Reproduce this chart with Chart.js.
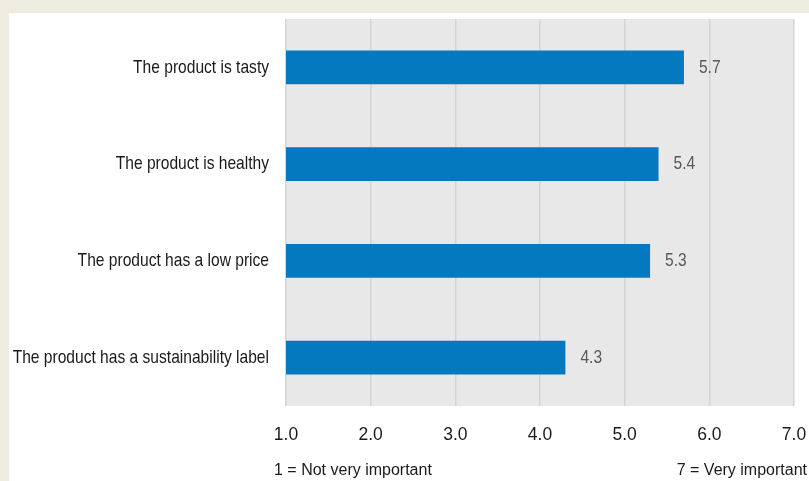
<!DOCTYPE html>
<html>
<head>
<meta charset="utf-8">
<script src="https://cdn.jsdelivr.net/npm/chart.js@4/dist/chart.umd.min.js"></script>
<style>
  html, body { margin: 0; padding: 0; background: #eeebe0; }
  #wrap { position: relative; width: 809px; height: 481px; }
</style>
</head>
<body>
<div id="wrap"><canvas id="chart" width="809" height="481"></canvas></div>
<script>
const categories = [
    'The product is tasty',
    'The product is healthy',
    'The product has a low price',
    'The product has a sustainability label'
];
const scores = [5.7, 5.4, 5.3, 4.3];
const tickValues = [1, 2, 3, 4, 5, 6, 7];
const scaleNotes = ['1 = Not very important', '7 = Very important'];

const FONT = "'Liberation Sans', Arial, sans-serif";
// no narrow face installed, so squeeze the regular one horizontally
const NARROW = 0.82;

function narrowText(ctx, text, x, y, align) {
    ctx.save();
    ctx.translate(x, y);
    ctx.scale(NARROW, 1);
    ctx.textAlign = align;
    ctx.fillText(text, 0, 0);
    ctx.restore();
}

// beige frame, white panel and grey plot area behind the scales
const backdrop = {
    id: 'backdrop',
    beforeDraw(chart) {
        const { ctx, chartArea: a } = chart;
        ctx.save();
        ctx.fillStyle = '#eeebe0';
        ctx.fillRect(0, 0, chart.width, chart.height);
        ctx.fillStyle = '#ffffff';
        ctx.fillRect(9, 13, chart.width - 9, chart.height - 13);
        ctx.fillStyle = '#e8e8e8';
        ctx.fillRect(a.left, a.top, a.right - a.left, a.bottom - a.top);
        ctx.restore();
    }
};

// category names, bar values and the two scale notes
const annotations = {
    id: 'annotations',
    afterDatasetsDraw(chart) {
        const { ctx, chartArea } = chart;
        const yScale = chart.scales.y;
        const meta = chart.getDatasetMeta(0);
        ctx.save();
        ctx.textBaseline = 'middle';
        ctx.font = '19px ' + FONT;
        ctx.fillStyle = '#1a1a1a';
        categories.forEach((label, i) => {
            narrowText(ctx, label, chartArea.left - 17, yScale.getPixelForValue(i), 'right');
        });
        ctx.fillStyle = '#595959';
        meta.data.forEach((bar, i) => {
            narrowText(ctx, scores[i].toFixed(1), bar.x + 15, bar.y, 'left');
        });
        ctx.font = '16px ' + FONT;
        ctx.fillStyle = '#1a1a1a';
        ctx.textAlign = 'left';
        ctx.fillText(scaleNotes[0], 274, 471);
        ctx.textAlign = 'right';
        ctx.fillText(scaleNotes[1], 807, 471);
        ctx.restore();
    }
};

new Chart(document.getElementById('chart'), {
    type: 'bar',
    data: {
        labels: categories,
        datasets: [{
            data: scores,
            backgroundColor: '#0579bf',
            borderWidth: 0,
            barPercentage: 0.7,
            categoryPercentage: 0.5
        }]
    },
    options: {
        indexAxis: 'y',
        responsive: false,
        animation: false,
        layout: { padding: { top: 19, right: 0, left: 0, bottom: 0 } },
        plugins: {
            legend: { display: false },
            tooltip: { enabled: false }
        },
        scales: {
            x: {
                min: 1,
                max: 7,
                afterBuildTicks(scale) {
                    scale.ticks = tickValues.map((v) => ({ value: v }));
                },
                afterFit(scale) {
                    scale.height = 75;
                    scale.paddingLeft = 0;
                    scale.paddingRight = 15;
                },
                border: { display: false },
                grid: { color: '#d4d4d4', lineWidth: 1.5, drawTicks: false },
                ticks: {
                    padding: 19,
                    color: '#1a1a1a',
                    font: { family: FONT, size: 17.5 },
                    callback: (v) => Number(v).toFixed(1)
                }
            },
            y: {
                afterFit(scale) { scale.width = 286; },
                border: { display: false },
                grid: { display: false, drawTicks: false },
                ticks: { display: false }
            }
        }
    },
    plugins: [backdrop, annotations]
});
</script>
</body>
</html>
